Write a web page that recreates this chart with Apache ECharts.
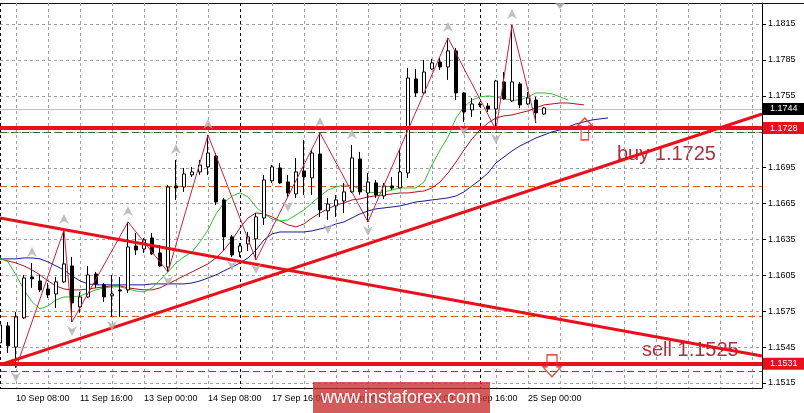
<!DOCTYPE html>
<html><head><meta charset="utf-8">
<script src="https://cdn.jsdelivr.net/npm/echarts@6/dist/echarts.min.js"></script>
<style>html,body{margin:0;padding:0;background:#fff}#c{width:804px;height:413px}</style>
</head><body><div id="c"></div>
<script>
// H4 bars, index 0 = 10 Sep 00:00 ; [open, close, low, high]
const ohlc = [
[1.15485,1.15635,1.15460,1.15660],[1.15627,1.15460,1.15401,1.15660],[1.15451,1.15702,1.15276,1.15744],
[1.15694,1.16028,1.15685,1.16053],[1.16036,1.16020,1.15945,1.16153],[1.16003,1.15928,1.15911,1.16053],
[1.15936,1.15886,1.15861,1.15986],[1.15894,1.15995,1.15777,1.16036],[1.15995,1.16145,1.15986,1.16429],
[1.16128,1.15819,1.15660,1.16204],[1.15786,1.15869,1.15736,1.15911],[1.15869,1.16053,1.15861,1.16128],
[1.16061,1.15978,1.15945,1.16078],[1.15970,1.15869,1.15828,1.15986],[1.15878,1.15894,1.15702,1.16053],
[1.15928,1.15919,1.15702,1.16036],[1.15928,1.16287,1.15903,1.16496],[1.16295,1.16262,1.16220,1.16404],
[1.16270,1.16346,1.16237,1.16362],[1.16362,1.16229,1.16220,1.16404],[1.16237,1.16128,1.16119,1.16304],
[1.16119,1.16788,1.16078,1.16805],[1.16797,1.16780,1.16680,1.17014],[1.16788,1.16897,1.16747,1.16947],
[1.16889,1.16914,1.16872,1.16956],[1.16914,1.16972,1.16889,1.17014],[1.16956,1.17072,1.16889,1.17223],
[1.17047,1.16663,1.16638,1.17072],[1.16680,1.16371,1.16262,1.16697],[1.16371,1.16220,1.16204,1.16387],
[1.16245,1.16295,1.16204,1.16321],[1.16312,1.16371,1.16253,1.16412],[1.16354,1.16538,1.16178,1.16571],
[1.16529,1.16847,1.16471,1.16889],[1.16839,1.16956,1.16822,1.16972],[1.16947,1.16822,1.16814,1.16989],
[1.16830,1.16738,1.16697,1.16889],[1.16730,1.16914,1.16697,1.17031],[1.16922,1.16872,1.16722,1.17181],
[1.16864,1.17072,1.16722,1.17097],[1.17064,1.16596,1.16538,1.17240],[1.16588,1.16646,1.16513,1.16697],
[1.16630,1.16680,1.16538,1.16722],[1.16671,1.16747,1.16571,1.16822],[1.16747,1.17031,1.16738,1.17139],
[1.17022,1.16747,1.16722,1.17081],[1.16738,1.16830,1.16496,1.16905],[1.16822,1.16722,1.16697,1.16847],
[1.16713,1.16797,1.16688,1.16822],[1.16797,1.16780,1.16763,1.16872],[1.16780,1.16914,1.16780,1.17097],
[1.16905,1.17699,1.16864,1.17783],[1.17691,1.17574,1.17541,1.17774],[1.17574,1.17749,1.17557,1.17850],
[1.17774,1.17825,1.17766,1.17858],[1.17833,1.17791,1.17766,1.17866],[1.17791,1.17925,1.17683,1.18034],
[1.17925,1.17574,1.17515,1.17950],[1.17574,1.17415,1.17332,1.17582],[1.17432,1.17482,1.17373,1.17532],
[1.17482,1.17474,1.17457,1.17499],[1.17465,1.17440,1.17415,1.17490],[1.17440,1.17674,1.17265,1.17683],
[1.17666,1.17524,1.17515,1.17749],[1.17507,1.17666,1.17499,1.18142],[1.17649,1.17474,1.17449,1.17666],
[1.17482,1.17532,1.17474,1.17582],[1.17515,1.17407,1.17323,1.17541],[1.17398,1.17449,1.17390,1.17457]
];
// Alligator lines (lips green, teeth red, jaw blue), index = bar
const lips = [1.16195,1.16162,1.16053,1.15928,1.15828,1.15769,1.15794,1.15844,1.15869,1.15869,
1.15878,1.15903,1.15928,1.15945,1.15953,1.15953,1.15936,1.15919,1.15911,1.15945,
1.16011,1.16078,1.16153,1.16204,1.16245,1.16329,1.16429,1.16563,1.16655,1.16713,
1.16738,1.16705,1.16621,1.16563,1.16521,1.16504,1.16513,1.16555,1.16596,1.16655,
1.16713,1.16763,1.16788,1.16805,1.16797,1.16772,1.16747,1.16738,1.16747,1.16763,
1.16780,1.16780,1.16780,1.16830,1.16972,1.17097,1.17206,1.17365,1.17457,1.17515,
1.17541,1.17549,1.17541,1.17524,1.17515,1.17515,1.17541,1.17574,1.17574,1.17566,1.17541,1.17515];
const teeth = [1.16187,1.16170,1.16153,1.16128,1.16095,1.16053,1.16003,1.15961,1.15936,1.15928,
1.15928,1.15936,1.15945,1.15953,1.15961,1.15961,1.15945,1.15936,1.15928,1.15928,
1.15945,1.15978,1.16011,1.16045,1.16078,1.16112,1.16145,1.16195,1.16262,1.16346,
1.16446,1.16529,1.16571,1.16563,1.16538,1.16504,1.16471,1.16454,1.16479,1.16529,
1.16571,1.16605,1.16638,1.16655,1.16680,1.16688,1.16705,1.16713,1.16722,1.16730,
1.16738,1.16738,1.16747,1.16755,1.16780,1.16830,1.16905,1.16997,1.17097,1.17190,
1.17265,1.17323,1.17365,1.17382,1.17390,1.17407,1.17424,1.17449,1.17474,1.17482,
1.17490,1.17490,1.17482,1.17474];
const jaw = [1.16187,1.16187,1.16187,1.16195,1.16195,1.16187,1.16162,1.16128,1.16095,1.16045,
1.16003,1.15978,1.15970,1.15970,1.15970,1.15970,1.15970,1.15970,1.15970,1.15978,
1.15978,1.15978,1.15978,1.15978,1.15986,1.16003,1.16028,1.16053,1.16087,1.16119,
1.16153,1.16195,1.16262,1.16346,1.16396,1.16412,1.16412,1.16412,1.16412,1.16421,
1.16437,1.16454,1.16479,1.16496,1.16529,1.16563,1.16588,1.16605,1.16613,1.16621,
1.16630,1.16646,1.16663,1.16671,1.16680,1.16688,1.16697,1.16713,1.16747,1.16797,
1.16847,1.16905,1.16989,1.17039,1.17089,1.17131,1.17164,1.17198,1.17223,1.17248,
1.17265,1.17290,1.17315,1.17332,1.17348,1.17357,1.17365];
// ZigZag vertices [bar, price]
const zigzag = [[2,1.15276],[8,1.16429],[9,1.15660],[16,1.16496],[21,1.16078],[26,1.17223],
[32,1.16178],[40,1.17240],[46,1.16496],[56,1.18034],[62,1.17265],[64,1.18142],[67,1.17323]];
const fractalUp = [4,8,16,22,26,40,44,56,64];
const fractalDown = [2,9,14,21,29,32,36,41,46,58,62];
// objects
const trendUp = [[0,1.15301],[95.25,1.17398]];
const trendDown = [[0,1.16529],[95.25,1.15376]];
const resistance = 1.1728, support = 1.1531, bid = 1.1744;
const greenLevels = [1.1725, 1.1525];
const orangeLevels = [1.1680, 1.1571];
const separators = [0, 30, 60];
const buyArrow = [[73.1, 1.17273]];
const sellArrow = [[69.0, 1.15293]];
const shiftBar = 70;
// axes
const yMin = 1.151082, yMax = 1.183255, xMax = 95.25;
const yTicks = [1.1515,1.1545,1.1575,1.1605,1.1635,1.1665,1.1695,1.1725,1.1755,1.1785,1.1815];
const xGridBars = [2,6,10,14,18,22,26,30,34,38,42,46,50,54,58,62,66,70,74,78,82,86,90,94];
const xLabelBars = [2,10,18,26,34,42,50,58,66];
const xLabels = ['10 Sep 08:00','11 Sep 16:00','13 Sep 00:00','14 Sep 08:00','17 Sep 16:00','19 Sep 00:00','20 Sep 08:00','21 Sep 16:00','25 Sep 00:00'];

const FONT = 'Liberation Sans';
const chart = echarts.init(document.getElementById('c'));
const idx = a => a.map((v,i)=>[i,v]);
const red = '#e8101a';
const crisp = v => Math.round(v) + 0.5;
// crisp 1px horizontal / vertical lines across the plot
const hSeries = (vals, stroke, dash, z) => ({type:'custom', coordinateSystem:'cartesian2d', silent:true, z,
  data: vals.map(v=>[0,v]), encode:{x:0,y:1},
  renderItem:(p, api)=>{ const c = api.coord([0, api.value(1)]); const y = crisp(c[1]);
    return {type:'line', shape:{x1:p.coordSys.x, y1:y, x2:p.coordSys.x+p.coordSys.width, y2:y},
      style:{stroke, lineWidth:1, lineDash:dash}}; }});
const vSeries = (vals, stroke, dash, z) => ({type:'custom', coordinateSystem:'cartesian2d', silent:true, z,
  data: vals.map(k=>[k,yMin]), encode:{x:0,y:1},
  renderItem:(p, api)=>{ const c = api.coord([api.value(0), yMin]); const x = Math.max(0.5, crisp(c[0]));
    return {type:'line', shape:{x1:x, y1:p.coordSys.y, x2:x, y2:p.coordSys.y+p.coordSys.height},
      style:{stroke, lineWidth:1, lineDash:dash}}; }});
const boxLabel = (txt, bg) => ({show:true, position:'end', formatter: txt, backgroundColor: bg, color:'#fff',
  padding:[2,7,1,7], fontSize:9, fontFamily:FONT, distance:1});

chart.setOption({
  animation:false,
  textStyle:{fontFamily:FONT},
  grid:{left:0,right:42,top:3,bottom:25},
  xAxis:{type:'value',min:0,max:xMax,
    axisLine:{show:true,onZero:false,lineStyle:{color:'#000',width:1}},
    axisTick:{show:false},
    axisLabel:{customValues:xLabelBars,formatter:v=>{const i=xLabelBars.indexOf(v);return i<0?'':xLabels[i];},
      align:'left',fontSize:9,color:'#000',margin:6,fontFamily:FONT},
    splitLine:{show:false}},
  yAxis:{type:'value',position:'right',min:yMin,max:yMax,scale:true,
    axisLine:{show:true,onZero:false,lineStyle:{color:'#000',width:1}},
    axisTick:{show:true,length:4,customValues:yTicks,lineStyle:{color:'#000'}},
    axisLabel:{customValues:yTicks,formatter:v=>v.toFixed(4),fontSize:9,color:'#000',margin:6,fontFamily:FONT},
    splitLine:{show:false}},
  series:[
    hSeries(yTicks,'#a2a2a2',[3,3],1),
    vSeries(xGridBars,'#a2a2a2',[3,3],1),
    hSeries([bid],'#c0c0c0',null,1),
    hSeries(orangeLevels,'#c8642d',[7,4],1),
    hSeries(greenLevels,'#2f6e2f',[7,4],1),
    vSeries(separators,'#000',[3,3],1),
    {type:'line',data:idx(jaw),showSymbol:false,lineStyle:{color:'#1a1a9a',width:1},z:2,silent:true},
    {type:'line',data:idx(teeth),showSymbol:false,lineStyle:{color:'#b3121b',width:1},z:2,silent:true},
    {type:'line',data:idx(lips),showSymbol:false,lineStyle:{color:'#30c030',width:1},z:2,silent:true},
    {type:'candlestick',data:ohlc.map((d,i)=>[i,d[0],d[1],d[2],d[3]]),
      dimensions:['t','open','close','lowest','highest'],encode:{x:0,y:[1,2,3,4]},
      barWidth:4,itemStyle:{color:'#fff',color0:'#000',borderColor:'#000',borderColor0:'#000',borderWidth:1},z:6,silent:true},
    {type:'line',data:zigzag,showSymbol:false,lineStyle:{color:'#cc1f3f',width:1},z:7,silent:true},
    {type:'line',data:trendUp,showSymbol:false,lineStyle:{color:red,width:3},z:8,silent:true},
    {type:'line',data:trendDown,showSymbol:false,lineStyle:{color:red,width:3},z:8,silent:true},
    {type:'line',data:[],z:8,silent:true,
      markLine:{silent:true,symbol:['none','none'],animation:false,precision:6,z:8,
        data:[
          {yAxis:bid,lineStyle:{color:'rgba(0,0,0,0)',width:1},label:boxLabel(bid.toFixed(4),'#000')},
          {yAxis:resistance,lineStyle:{color:red,width:4,type:'solid'},label:boxLabel(resistance.toFixed(4),red)},
          {yAxis:support,lineStyle:{color:red,width:4,type:'solid'},label:boxLabel(support.toFixed(4),red)}
        ]}},
    {type:'scatter',data:fractalUp.map(k=>[k,ohlc[k][3]]),symbol:'path://M5,0 L10,10 L5,7 L0,10 Z',
      symbolSize:[10,10],symbolOffset:[0,-11],itemStyle:{color:'#b0b0b0'},z:9,silent:true},
    {type:'scatter',data:fractalDown.map(k=>[k,ohlc[k][2]]),symbol:'path://M0,0 L5,3 L10,0 L5,10 Z',
      symbolSize:[10,10],symbolOffset:[0,9],itemStyle:{color:'#b0b0b0'},z:9,silent:true},
    {type:'scatter',data:[[shiftBar,yMax]],symbol:'path://M0,0 L10,0 L5,6 Z',symbolSize:[10,6],
      symbolOffset:[0,3],itemStyle:{color:'#a0a0a0'},z:9,silent:true},
    {type:'scatter',data:buyArrow,symbol:'path://M7,0 L14,8 L10.5,8 L10.5,22 L3.5,22 L3.5,8 L0,8 Z',
      symbolSize:[15,22],itemStyle:{color:'rgba(255,255,255,0)',borderColor:'#e82828',borderWidth:1.5},z:10,silent:true},
    {type:'scatter',data:sellArrow,symbol:'path://M4,0 L14,0 L14,12 L18,12 L9,22 L0,12 L4,12 Z',
      symbolSize:[18,22],itemStyle:{color:'rgba(255,255,255,0)',borderColor:'#e82828',borderWidth:1.5},z:10,silent:true}
  ],
  graphic:[
    {type:'line',shape:{x1:0,y1:3.5,x2:804,y2:3.5},style:{stroke:'#111',lineWidth:1},silent:true},
    {type:'text',x:617,y:154,style:{text:'buy 1.1725',fill:'#a83240',font:'20px "Liberation Sans"',verticalAlign:'middle'},silent:true},
    {type:'text',x:642,y:350,style:{text:'sell 1.1525',fill:'#a83240',font:'20px "Liberation Sans"',verticalAlign:'middle'},silent:true},
    {type:'rect',shape:{x:313,y:382,width:177,height:31},style:{fill:'rgba(200,50,50,0.8)'},z:100,silent:true},
    {type:'text',x:401,y:398,style:{text:'www.instaforex.com',fill:'#fff',font:'18px "Liberation Sans"',align:'center',verticalAlign:'middle'},z:101,silent:true}
  ]
});
</script></body></html>
